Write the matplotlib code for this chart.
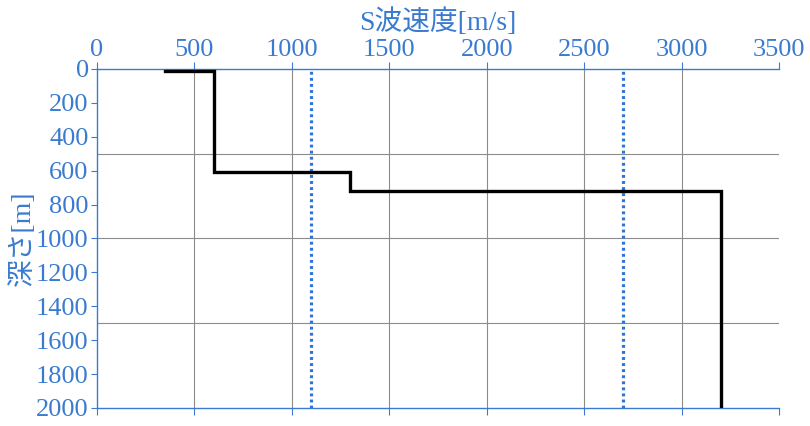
import numpy as np
import matplotlib
matplotlib.use("Agg")
import matplotlib.pyplot as plt

# S-wave velocity profile (step), depth in m
velocity = [350, 600, 600, 1300, 1300, 3200, 3200]
depth = [10, 10, 610, 610, 720, 720, 2000]

# reference velocities (dotted verticals)
ref_velocity = [1100, 2700]

x_ticks = np.arange(0, 3501, 500)
y_ticks = np.arange(0, 2001, 200)
y_grid = [500, 1000, 1500]

blue = "#3A7BD0"
fonts = ["Liberation Serif", "Noto Sans CJK JP"]

fig = plt.figure(figsize=(8.1, 4.26), dpi=100)
ax = fig.add_axes([0.1198, 0.0423, 0.8419, 0.7958])

# grid
for xv in x_ticks[1:-1]:
    ax.axvline(xv, color="#8c8c8c", lw=0.8, zorder=1)
for yv in y_grid:
    ax.axhline(yv, color="#8c8c8c", lw=0.8, zorder=1)

for rv in ref_velocity:
    ax.axvline(rv, color="#2E74D6", lw=2.3, linestyle=(0, (0.9, 1.0)), zorder=2)

ax.plot(velocity, depth, color="black", lw=2.4, zorder=3, solid_joinstyle="miter")

ax.set_xlim(0, 3500)
ax.set_ylim(2000, 0)
ax.set_xticks(x_ticks)
ax.set_yticks(y_ticks)
ax.xaxis.tick_top()
ax.xaxis.set_label_position("top")
ax.tick_params(axis="x", which="both", top=True, bottom=True, labelbottom=False,
               direction="out", length=5, width=0.8, color=blue, labelcolor=blue,
               labelsize=19, pad=1)
ax.tick_params(axis="y", direction="out", length=4, width=0.8, color=blue,
               labelcolor=blue, labelsize=19, pad=2)
for lab in ax.get_xticklabels() + ax.get_yticklabels():
    lab.set_family(fonts)

for side in ["top", "left", "bottom"]:
    ax.spines[side].set_color(blue)
    ax.spines[side].set_linewidth(1.0)
ax.spines["right"].set_visible(False)

ax.set_xlabel("S波速度[m/s]", color=blue, fontsize=20, family=fonts, labelpad=6)
ax.set_ylabel("深さ[m]", color=blue, fontsize=20, family=fonts, labelpad=0)

fig.savefig("out.png", dpi=100)
